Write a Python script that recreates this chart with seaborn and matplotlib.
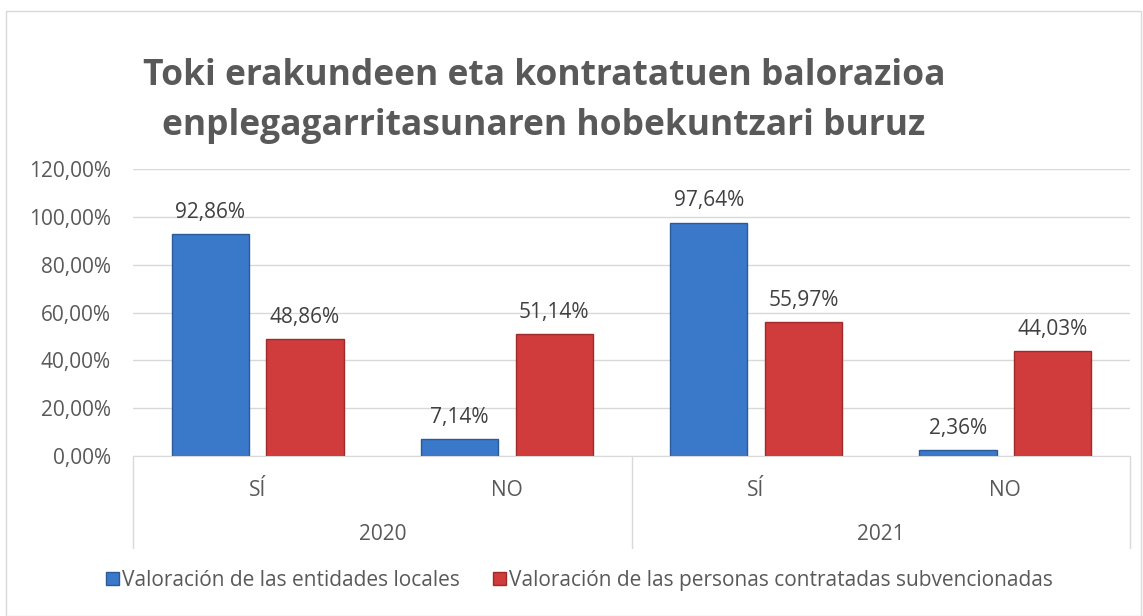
import seaborn as sns
import matplotlib.pyplot as plt
import pandas as pd
from matplotlib.patches import Rectangle

# data
years = ["2020", "2020", "2021", "2021"]
answers = ["SÍ", "NO", "SÍ", "NO"]
entidades = [92.86, 7.14, 97.64, 2.36]
personas = [48.86, 51.14, 55.97, 44.03]
series = ["Valoración de las entidades locales",
          "Valoración de las personas contratadas subvencionadas"]

cats = [y + " " + a for y, a in zip(years, answers)]
df = pd.DataFrame({
    "cat": cats * 2,
    "serie": [series[0]] * 4 + [series[1]] * 4,
    "valor": entidades + personas,
})

sns.set_style("white")
plt.rcParams["font.family"] = ["Open Sans", "DejaVu Sans"]

fig = plt.figure(figsize=(11.43, 6.16), dpi=100)
ax = fig.add_axes([0.1164, 0.2597, 0.8722, 0.4659])

colors = ["#3A79C9", "#D03C3C"]
sns.barplot(data=df, x="cat", y="valor", hue="serie", palette=colors,
            width=0.76, ax=ax, legend=False, saturation=1)

edge = ["#2A5A97", "#9E2A2A"]
for i, cont in enumerate(ax.containers):
    for p in cont.patches:
        w = p.get_width()
        p.set_x(p.get_x() + (w - 0.31) / 2)
        p.set_width(0.31)
        p.set_edgecolor(edge[i])
        p.set_linewidth(1.0)
    ax.bar_label(cont, labels=[f"{v:.2f}%".replace(".", ",") for v in cont.datavalues],
                 padding=8, fontsize=15, color="#404040")

ax.set_ylim(0, 120)
ax.set_yticks(range(0, 121, 20))
ax.set_yticklabels([f"{v:.2f}%".replace(".", ",") for v in range(0, 121, 20)],
                   fontsize=15, color="#595959")
ax.yaxis.grid(True, color="#D9D9D9", linewidth=1)
ax.set_axisbelow(True)
ax.set_xlim(-0.5, 3.5)
ax.set_xticks(range(4))
ax.set_xticklabels(answers, fontsize=15, color="#595959")
ax.tick_params(axis="x", length=0, pad=17)
ax.tick_params(axis="y", length=0, pad=16)
ax.set_xlabel("")
ax.set_ylabel("")
for s in ["top", "right", "left"]:
    ax.spines[s].set_visible(False)
ax.spines["bottom"].set_color("#D9D9D9")

# second level of category axis
trans = ax.get_xaxis_transform()
for x in [-0.5, 1.5, 3.5]:
    ax.plot([x, x], [0, -0.32], color="#D9D9D9", lw=1, transform=trans, clip_on=False)
for x, yr in [(0.5, "2020"), (2.5, "2021")]:
    ax.text(x, -0.275, yr, transform=trans, ha="center", va="center",
            fontsize=15, color="#595959")

fig.text(0.476, 0.836,
         "Toki erakundeen eta kontratatuen balorazioa\nenplegagarritasunaren hobekuntzari buruz",
         ha="center", va="center", fontsize=25.5, fontweight="bold", color="#595959",
         linespacing=1.5)

handles = [Rectangle((0, 0), 1, 1, facecolor=c, edgecolor=e) for c, e in zip(colors, edge)]
fig.legend(handles, series, loc="center", bbox_to_anchor=(0.507, 0.058), ncol=2,
           frameon=False, fontsize=15, labelcolor="#595959", handlelength=0.6,
           handleheight=0.6, handletextpad=0.15, columnspacing=1.6)

fig.add_artist(Rectangle((0.005, 0.0), 0.993, 0.982, transform=fig.transFigure,
                         fill=False, edgecolor="#D9D9D9", lw=1))

fig.savefig("out.png", dpi=100)
